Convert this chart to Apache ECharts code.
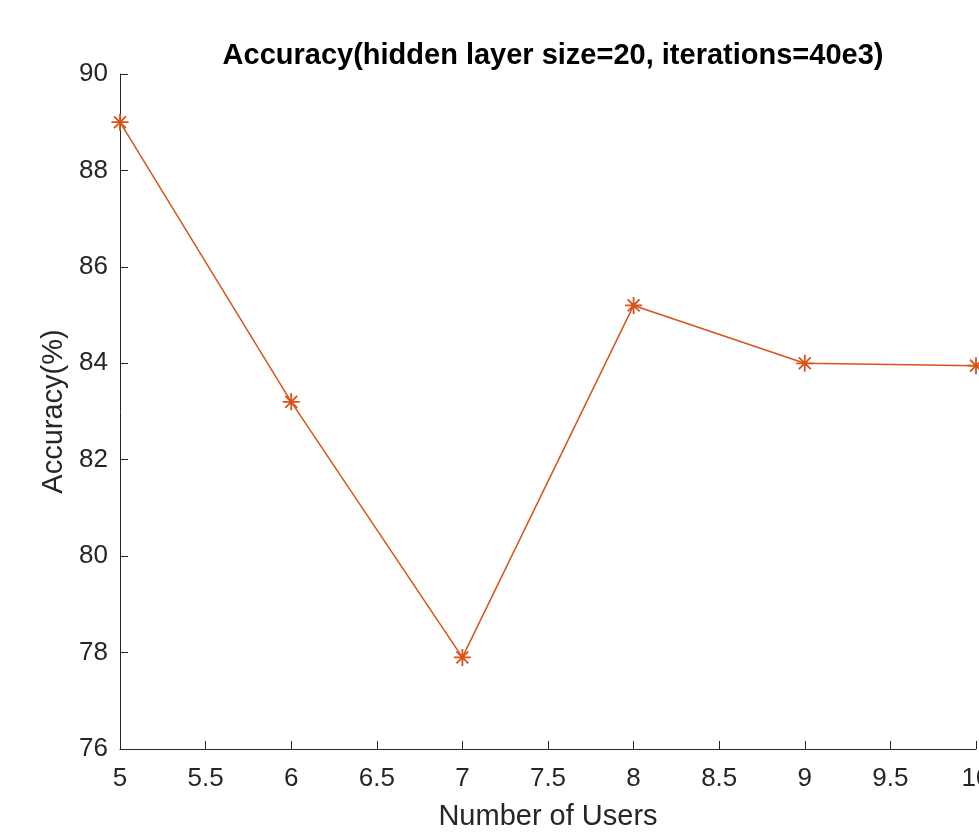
<!DOCTYPE html>
<html>
<head>
<meta charset="utf-8">
<script src="https://cdn.jsdelivr.net/npm/echarts@6/dist/echarts.min.js"></script>
<style>
  html, body { margin: 0; padding: 0; background: #fff; }
  #chart { width: 979px; height: 834px; }
</style>
</head>
<body>
<div id="chart"></div>
<script>
// data
const users = [5, 6, 7, 8, 9, 10];
const accuracy = [89.0, 83.2, 77.9, 85.2, 84.0, 83.95];

const lineColor = '#D95319';
const axisColor = '#262626';
const font = 'Liberation Sans, Arial, sans-serif';

// matlab-ish '*' marker
const star = 'path://M0,-1L0,1M-1,0L1,0M-0.7,-0.7L0.7,0.7M-0.7,0.7L0.7,-0.7';

const chart = echarts.init(document.getElementById('chart'));
chart.setOption({
    animation: false,
    title: {
        text: 'Accuracy(hidden layer size=20, iterations=40e3)',
        left: 548,
        top: 36,
        textAlign: 'center',
        textStyle: { fontFamily: font, fontWeight: 'bold', fontSize: 29, color: '#000' }
    },
    grid: { left: 120, right: 3, top: 74, bottom: 85, outerBoundsMode: 'none' },
    xAxis: {
        type: 'value',
        min: 5, max: 10, interval: 0.5,
        name: 'Number of Users',
        nameLocation: 'middle',
        nameGap: 53,
        nameTextStyle: { fontFamily: font, fontSize: 29, color: axisColor },
        axisLine: { lineStyle: { color: axisColor, width: 1 } },
        axisTick: { inside: true, length: 8, lineStyle: { color: axisColor } },
        axisLabel: { fontFamily: font, fontSize: 26, color: axisColor, margin: 17, showMaxLabel: true },
        splitLine: { show: false }
    },
    yAxis: {
        type: 'value',
        min: 76, max: 90, interval: 2,
        name: 'Accuracy(%)',
        nameLocation: 'middle',
        nameGap: 50,
        nameTextStyle: { fontFamily: font, fontSize: 29, color: axisColor },
        axisLine: { show: true, lineStyle: { color: axisColor, width: 1 } },
        axisTick: { show: true, inside: true, length: 8, lineStyle: { color: axisColor } },
        axisLabel: { fontFamily: font, fontSize: 26, color: axisColor, margin: 12 },
        splitLine: { show: false }
    },
    series: [{
        type: 'line',
        data: users.map((u, i) => [u, accuracy[i]]),
        symbol: star,
        symbolSize: 17,
        showAllSymbol: true,
        clip: false,
        lineStyle: { color: lineColor, width: 1.5 },
        itemStyle: { color: lineColor, borderColor: lineColor, borderWidth: 1.8 }
    }]
});
</script>
</body>
</html>
